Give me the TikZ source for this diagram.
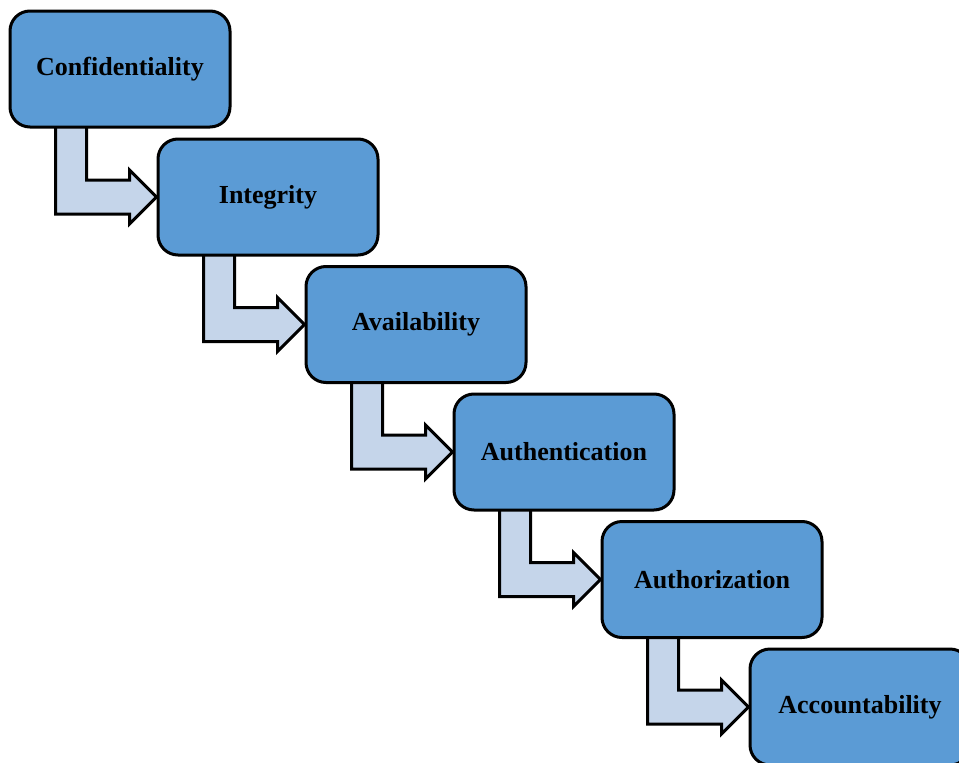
\documentclass[tikz,border=0pt]{standalone}
\usepackage{fontspec}
\setmainfont{Liberation Serif}
\usetikzlibrary{calc}
\pgfdeclarelayer{background}
\pgfsetlayers{background,main}
\definecolor{boxblue}{HTML}{5B9BD5}
\definecolor{arrowblue}{HTML}{C5D5EA}
\tikzset{
  stagebox/.style={draw=black, line width=3pt, fill=boxblue, rounded corners=20pt,
    minimum width=220pt, minimum height=116pt, inner sep=0pt,
    font=\fontsize{26}{31}\selectfont\bfseries},
  bentarrow/.style={draw=black, line width=3pt, fill=arrowblue, line join=miter}
}
% bent block arrow from the bottom of box #1 to the left side of box #2
\newcommand\bentarrow[2]{%
  \draw[bentarrow] let \p1=(#1.south west), \p2=(#2.west) in
    (\x1+47pt,\y1+4pt) -- (\x1+47pt,\y2-17pt) -- (\x2-27pt,\y2-17pt)
    -- (\x2-27pt,\y2-27pt) -- (\x2,\y2) -- (\x2-27pt,\y2+27pt)
    -- (\x2-27pt,\y2+17pt) -- (\x1+78pt,\y2+17pt) -- (\x1+78pt,\y1+4pt) -- cycle;}
\begin{document}
\begin{tikzpicture}[x=1pt,y=-1pt]
  \useasboundingbox (0,0) rectangle (959,763);
  \clip (0,0) rectangle (959,763);
  \begin{pgfonlayer}{background}
    \fill[white] (0,0) rectangle (959,763);
  \end{pgfonlayer}
  \node[stagebox] (conf)  at (120,69)    {Confidentiality};
  \node[stagebox] (integ) at (268,197)   {Integrity};
  \node[stagebox] (avail) at (416,324.5) {Availability};
  \node[stagebox] (authn) at (564,452)   {Authentication};
  \node[stagebox] (authz) at (712,579.5) {Authorization};
  \node[stagebox] (acct)  at (860,707)   {Accountability};
  % the arrows sit behind the boxes
  \begin{pgfonlayer}{background}
    \bentarrow{conf}{integ}
    \bentarrow{integ}{avail}
    \bentarrow{avail}{authn}
    \bentarrow{authn}{authz}
    \bentarrow{authz}{acct}
  \end{pgfonlayer}
\end{tikzpicture}
\end{document}
